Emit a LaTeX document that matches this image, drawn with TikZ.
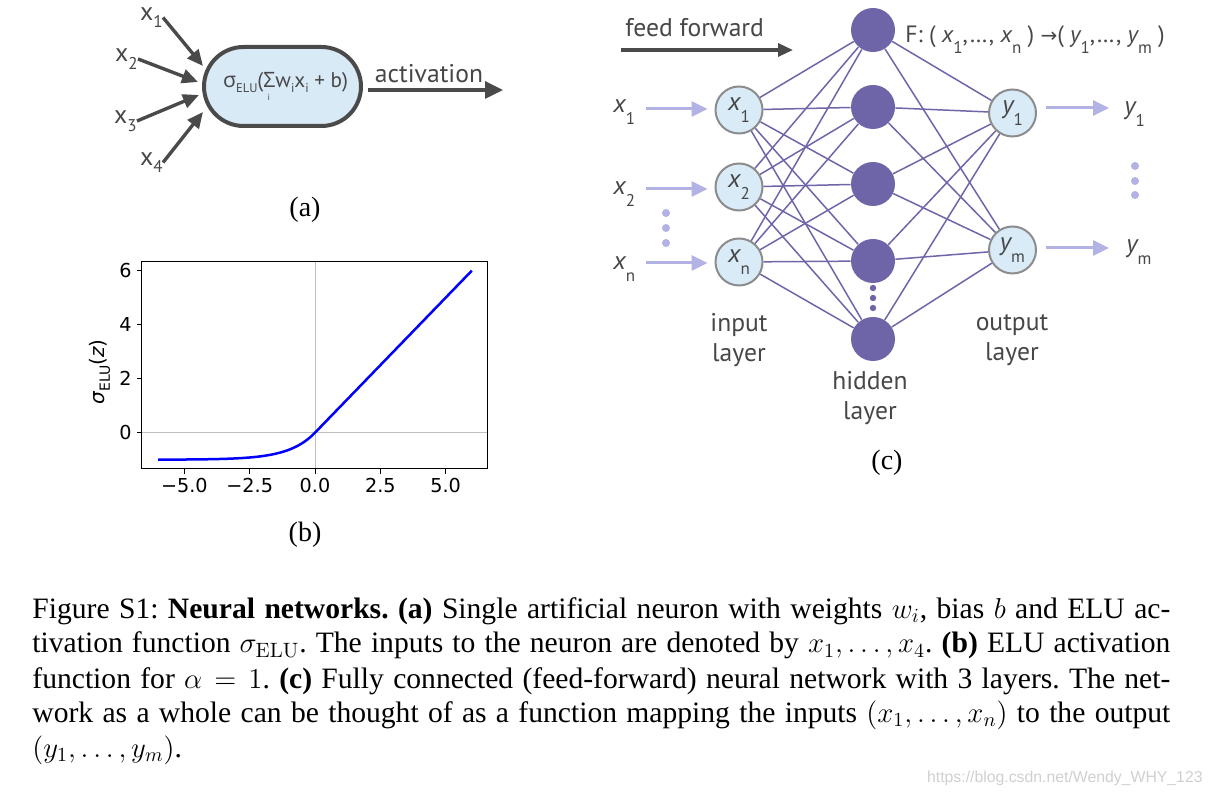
\documentclass[tikz,border=0pt]{standalone}
\usepackage{fontspec}
\usetikzlibrary{arrows.meta,shapes.misc}
\newfontfamily\capfont{Liberation Serif}
\newfontfamily\sfont{PT Sans}
\newfontfamily\grk{Open Sans}
\newfontfamily\dvs{DejaVu Sans}
\newfontfamily\wmfont{Liberation Sans}
\newfontfamily\arrfont{DejaVu Sans}
\definecolor{dk}{HTML}{4A4A4A}
\definecolor{pillfill}{HTML}{D9EAF7}
\definecolor{nodefill}{HTML}{D9EBF7}
\definecolor{nodeedge}{HTML}{8C8C8C}
\definecolor{hid}{HTML}{6E64A8}
\definecolor{connc}{HTML}{6F66AA}
\definecolor{lite}{HTML}{B2B2E5}
\definecolor{txt}{HTML}{474747}
\definecolor{gridg}{HTML}{BFBFBF}
\definecolor{wmc}{HTML}{D0D0D0}
\newcommand{\ssub}[2]{\raisebox{#1}{\fontsize{8.5pt}{9pt}\selectfont #2}}
\newcommand{\tsub}[2]{\raisebox{#1}{\fontsize{6.3pt}{7pt}\selectfont #2}}
\begin{document}
\begin{tikzpicture}[x=0.5pt,y=-0.5pt,
  lab/.style={inner sep=0pt, text=txt, font=\sfont\fontsize{12.8pt}{15pt}\selectfont},
  pill/.style={rounded rectangle, draw=dk, line width=2pt, fill=pillfill,
     minimum width=78.5pt, minimum height=39.5pt, inner sep=0pt},
  aarrow/.style={draw=dk, line width=1.7pt, -{Triangle[length=8pt,width=7pt]}},
  aoutarrow/.style={draw=dk, line width=1.7pt, -{Triangle[length=9pt,width=8.5pt]}},
  ffarrow/.style={draw=dk, line width=1.6pt, -{Triangle[length=7.5pt,width=6.5pt]}},
  litearrow/.style={draw=lite, line width=1.5pt, -{Triangle[length=8pt,width=7.5pt]}},
  innode/.style={circle, draw=nodeedge, line width=1pt, fill=nodefill, minimum size=23.5pt, inner sep=0pt,
     text=txt, font=\sfont\fontsize{12.8pt}{15pt}\selectfont},
  hidnode/.style={circle, fill=hid, minimum size=22pt, inner sep=0pt},
  conn/.style={draw=connc, line width=0.75pt},
  litedot/.style={circle, fill=lite, minimum size=4pt, inner sep=0pt},
  hiddot/.style={circle, fill=hid, minimum size=3.2pt, inner sep=0pt},
  tick/.style={inner sep=0pt, font=\dvs\fontsize{9.6pt}{10pt}\selectfont},
  panel/.style={inner sep=0pt, font=\capfont\fontsize{14pt}{16pt}\selectfont},
  capline/.style={anchor=base west, inner sep=0pt, font=\capfont\fontsize{14.8pt}{17.75pt}\selectfont\frenchspacing}
]
\useasboundingbox (0,0) rectangle (1209,795);
\fill[white] (0,0) rectangle (1209,795);

%% ---------------- panel (a)
\node[pill] (pill) at (282.5,86.5) {\sfont\color{txt}\fontsize{10.6pt}{12pt}\selectfont
  \hspace{3pt}{\grk σ}\tsub{-0.25em}{ELU}(\rlap{\raisebox{-0.6em}{\hspace{0.2em}\fontsize{4.5pt}{5pt}\selectfont i}}{\grk Σ}w\tsub{-0.25em}{i}x\tsub{-0.25em}{i} + b)};
\node[lab, anchor=east] (xa1) at (163,17.5) {x\ssub{-0.3em}{1}};
\node[lab, anchor=east] (xa2) at (138,59) {x\ssub{-0.3em}{2}};
\node[lab, anchor=east] (xa3) at (137,121) {x\ssub{-0.3em}{3}};
\node[lab, anchor=east] (xa4) at (163,162.5) {x\ssub{-0.3em}{4}};
\coordinate (ta1) at (203,66);
\coordinate (ta2) at (198,82);
\coordinate (ta3) at (199,95);
\coordinate (ta4) at (203,112);
\draw[aarrow] (xa1.east) -- (ta1);
\draw[aarrow] (xa2.east) -- (ta2);
\draw[aarrow] (xa3.east) -- (ta3);
\draw[aarrow] (xa4.east) -- (ta4);
\coordinate (aend) at (503,90);
\draw[aoutarrow] ([xshift=2.5pt,yshift=-1.75pt]pill.east) -- (aend);
\node[lab, anchor=base] (act) at (429,83) {activation};
\node[panel] (pa) at (305,210) {(a)};

%% ---------------- panel (b)
\draw[gridg, line width=0.5pt] (315,261.7) -- (315,469);
\draw[gridg, line width=0.5pt] (141.7,432.7) -- (487.3,432.7);
\draw[blue, line width=1.25pt, line join=round]
  plot[domain=-6:0, samples=80, smooth] ({315+26.13*\x},{432.7-27*(exp(\x)-1)})
  -- ({315+26.13*6},{432.7-27*6});
\draw[line width=0.5pt] (141.7,261.7) rectangle (487.3,469);
\foreach \v/\t [count=\i] in {-5/−5.0,-2.5/−2.5,0/0.0,2.5/2.5,5/5.0}{
  \draw[line width=0.5pt] ({315+26.13*\v},469) -- ({315+26.13*\v},474);
  \node[tick, anchor=north] (xt\i) at ({315+26.13*\v},478) {\t};
}
\foreach \v [count=\i] in {0,2,4,6}{
  \draw[line width=0.5pt] (141.7,{432.7-27*\v}) -- (136.7,{432.7-27*\v});
  \node[tick, anchor=east] (yt\i) at (132,{432.7-27*\v}) {\v};
}
\node[rotate=90, inner sep=0pt] (ylab) at (100,372) {\dvs\fontsize{10pt}{11pt}\selectfont
  {\itshape σ}\raisebox{-0.25em}{\fontsize{7pt}{7pt}\selectfont ELU}({\itshape z})};
\node[panel] (pb) at (305,535) {(b)};

%% ---------------- panel (c)
\node[lab, anchor=base west] (ff) at (625,37) {feed forward};
\coordinate (ffs) at (621,50);
\coordinate (ffe) at (793,50);
\draw[ffarrow] (ffs) -- (ffe);

\node[innode] (i1) at (739,110) {{\itshape x}\ssub{-0.45em}{1}};
\node[innode] (i2) at (739,187) {{\itshape x}\ssub{-0.45em}{2}};
\node[innode] (i3) at (739,262) {{\itshape x}\ssub{-0.45em}{n}};
\foreach \y [count=\i] in {30,107,184,261,339}{
  \node[hidnode] (h\i) at (873,\y) {};
}
\node[innode] (o1) at (1012.5,113) {{\itshape y}\ssub{-0.45em}{1}};
\node[innode] (o2) at (1012.5,250) {{\itshape y}\ssub{-0.45em}{m}};
\foreach \a in {1,2,3}{
  \foreach \b in {1,...,5}{
    \draw[conn] (i\a) -- (h\b);
  }
}
\foreach \b in {1,...,5}{
  \foreach \c in {1,2}{
    \draw[conn] (h\b) -- (o\c);
  }
}
\node[hiddot] (hd1) at (873,288) {};
\node[hiddot] (hd2) at (873,298) {};
\node[hiddot] (hd3) at (873,308) {};

% inputs
\node[lab, anchor=base west] (xl1) at (613,113) {{\itshape x}\ssub{-0.45em}{1}};
\node[lab, anchor=base west] (xl2) at (613,195) {{\itshape x}\ssub{-0.45em}{2}};
\node[lab, anchor=base west] (xl3) at (613,270) {{\itshape x}\ssub{-0.45em}{n}};
\coordinate (ia1) at (646,109);
\coordinate (ia2) at (646,189);
\coordinate (ia3) at (646,263);
\draw[litearrow, shorten >=3.5pt] (ia1) -- (i1.west |- ia1);
\draw[litearrow, shorten >=3.5pt] (ia2) -- (i2.west |- ia2);
\draw[litearrow, shorten >=3.5pt] (ia3) -- (i3.west |- ia3);
\node[litedot] (id1) at (666,213) {};
\node[litedot] (id2) at (666,228) {};
\node[litedot] (id3) at (666,243) {};

% outputs
\coordinate (oa1) at (1109,108);
\coordinate (oa2) at (1109,248);
\draw[litearrow, shorten <=4.5pt] (o1.east |- oa1) -- (oa1);
\draw[litearrow, shorten <=4.5pt] (o2.east |- oa2) -- (oa2);
\node[lab, anchor=base west] (yl1) at (1124,115) {{\itshape y}\ssub{-0.45em}{1}};
\node[lab, anchor=base west] (yl2) at (1126,253) {{\itshape y}\ssub{-0.45em}{m}};
\node[litedot] (od1) at (1135,166) {};
\node[litedot] (od2) at (1135,181) {};
\node[litedot] (od3) at (1135,195) {};

\node[lab, anchor=base west, font=\sfont\fontsize{11.8pt}{14pt}\selectfont] (F) at (905,43)
  {F: ( {\itshape x}\ssub{-0.45em}{1},…, {\itshape x}\ssub{-0.45em}{n} ) {\arrfont\fontsize{10pt}{12pt}\selectfont →}( {\itshape y}\ssub{-0.45em}{1},…, {\itshape y}\ssub{-0.45em}{m} )};

\node[lab, align=center] (inl) at (739,340) {input\\layer};
\node[lab, align=center] (hidl) at (870,398) {hidden\\layer};
\node[lab, align=center] (outl) at (1012,340) {output\\layer};
\node[panel] (pc) at (887,463) {(c)};

%% ---------------- caption
\node[capline] (cap1) at (32,618) {\makebox[569pt][s]{Figure S1: \textbf{Neural networks.} \textbf{(a)} Single artificial neuron with weights $w_i$, bias $b$ and ELU ac-}};
\node[capline] (cap2) at (32,653) {\makebox[569pt][s]{tivation function $\sigma_{\mathrm{ELU}}$. The inputs to the neuron are denoted by $x_1,\ldots,x_4$. \textbf{(b)} ELU activation}};
\node[capline] (cap3) at (32,688) {\makebox[569pt][s]{function for $\alpha=1$. \textbf{(c)} Fully connected (feed-forward) neural network with 3 layers. The net-}};
\node[capline] (cap4) at (32,722.5) {\makebox[569pt][s]{work as a whole can be thought of as a function mapping the inputs $(x_1,\ldots,x_n)$ to the output}};
\node[capline] (cap5) at (32,757) {$(y_1,\ldots,y_m)$.};

\node[anchor=base east, inner sep=0pt, text=wmc, font=\wmfont\fontsize{7.9pt}{8pt}\selectfont] (wm) at (1203,782) {https://blog.csdn.net/Wendy\_WHY\_123};
\end{tikzpicture}
\end{document}
